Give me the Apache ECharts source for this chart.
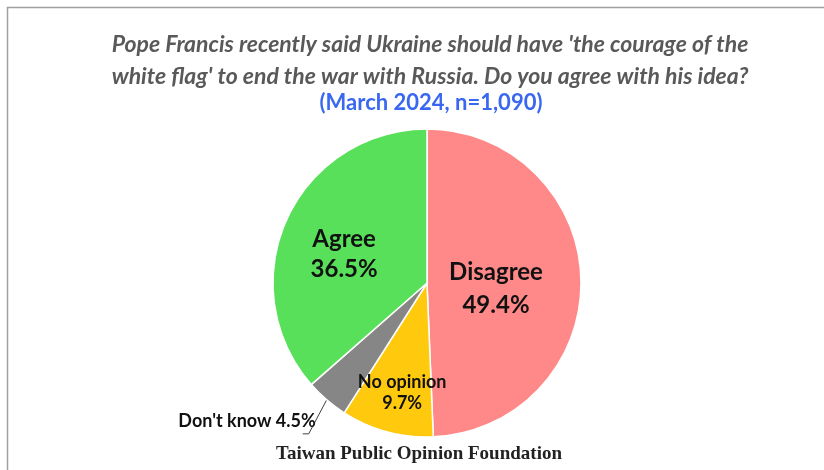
<!DOCTYPE html>
<html>
<head>
<meta charset="utf-8">
<script src="https://cdn.jsdelivr.net/npm/echarts@6/dist/echarts.min.js"></script>
<style>
  html, body { margin: 0; padding: 0; background: #fff; }
  #chart { width: 824px; height: 470px; }
</style>
</head>
<body>
<div id="chart"></div>
<script>
// Survey answers, clockwise from 12 o'clock
const categories = ['Disagree', 'No opinion', "Don't know", 'Agree'];
const shares = [49.4, 9.7, 4.5, 36.5];
const sliceColors = ['#FF8989', '#FFC90E', '#868686', '#59E05A'];

const titleLines = [
  "Pope Francis recently said Ukraine should have 'the courage of the",
  "white flag' to end the war with Russia. Do you agree with his idea?"
];
const subtitle = '(March 2024, n=1,090)';
const source = 'Taiwan Public Opinion Foundation';

const labelFont = 'Lato, "Open Sans", sans-serif';

// nudges for the in-slice labels
const labelShift = {
  'Disagree': [-11, 7],
  'No opinion': [-4, 32],
  'Agree': [-10, 4]
};

const chart = echarts.init(document.getElementById('chart'), null, { renderer: 'canvas' });

chart.setOption({
  backgroundColor: '#ffffff',
  animation: false,
  title: [
    {
      text: titleLines.join('\n'),
      left: 425, top: 24, textAlign: 'center',
      textStyle: {
        fontFamily: labelFont, fontSize: 23, fontWeight: 'bold', fontStyle: 'italic',
        color: '#595959', lineHeight: 32
      }
    },
    {
      text: subtitle,
      left: 426, top: 87, textAlign: 'center',
      textStyle: { fontFamily: labelFont, fontSize: 22, fontWeight: 'bold', color: '#3A67F0' }
    },
    {
      text: source,
      left: 414, top: 440, textAlign: 'center',
      textStyle: { fontFamily: '"Liberation Serif", "DejaVu Serif", serif', fontSize: 19, fontWeight: 'bold', color: '#222222' }
    }
  ],
  graphic: [
    {
      type: 'rect', silent: true, z: -1,
      shape: { x: 7.5, y: 7.5, width: 900, height: 600 },
      style: { fill: 'none', stroke: '#A0A0A0', lineWidth: 1.5 }
    }
  ],
  series: [{
    type: 'pie',
    center: [427, 283],
    radius: [0, 154],
    startAngle: 90,
    clockwise: true,
    itemStyle: { borderColor: '#ffffff', borderWidth: 1.5 },
    label: {
      show: true,
      position: 'inside',
      fontFamily: labelFont,
      fontWeight: 'bold',
      color: '#111111',
      formatter: p => p.name + '\n' + p.value.toFixed(1) + '%'
    },
    labelLine: { show: false },
    emphasis: { disabled: true },
    data: categories.map((name, i) => {
      const item = { name, value: shares[i], itemStyle: { color: sliceColors[i] } };
      if (name === 'No opinion') {
        item.label = { fontSize: 18, lineHeight: 21 };
      } else if (name === "Don't know") {
        item.label = {
          position: 'outside', fontSize: 18,
          formatter: p => p.name + ' ' + p.value.toFixed(1) + '%'
        };
        item.labelLine = { show: true, length: 20, length2: 6, lineStyle: { color: '#404040', width: 1 } };
      } else if (name === 'Disagree') {
        item.label = { fontSize: 24, lineHeight: 33 };
      } else {
        item.label = { fontSize: 24, lineHeight: 30 };
      }
      return item;
    }),
    labelLayout: function (params) {
      const name = categories[params.dataIndex];
      if (name === "Don't know") {
        const p0 = params.labelLinePoints[0];
        const p1 = [p0[0] - 18, p0[1] + 34];
        const p2 = [p1[0] - 6, p1[1]];
        return {
          x: p1[0] + 7, y: p1[1] - 4,
          align: 'right', verticalAlign: 'bottom',
          labelLinePoints: [p0, p1, p2]
        };
      }
      const s = labelShift[name];
      return s ? { dx: s[0], dy: s[1] } : {};
    }
  }]
});
</script>
</body>
</html>
